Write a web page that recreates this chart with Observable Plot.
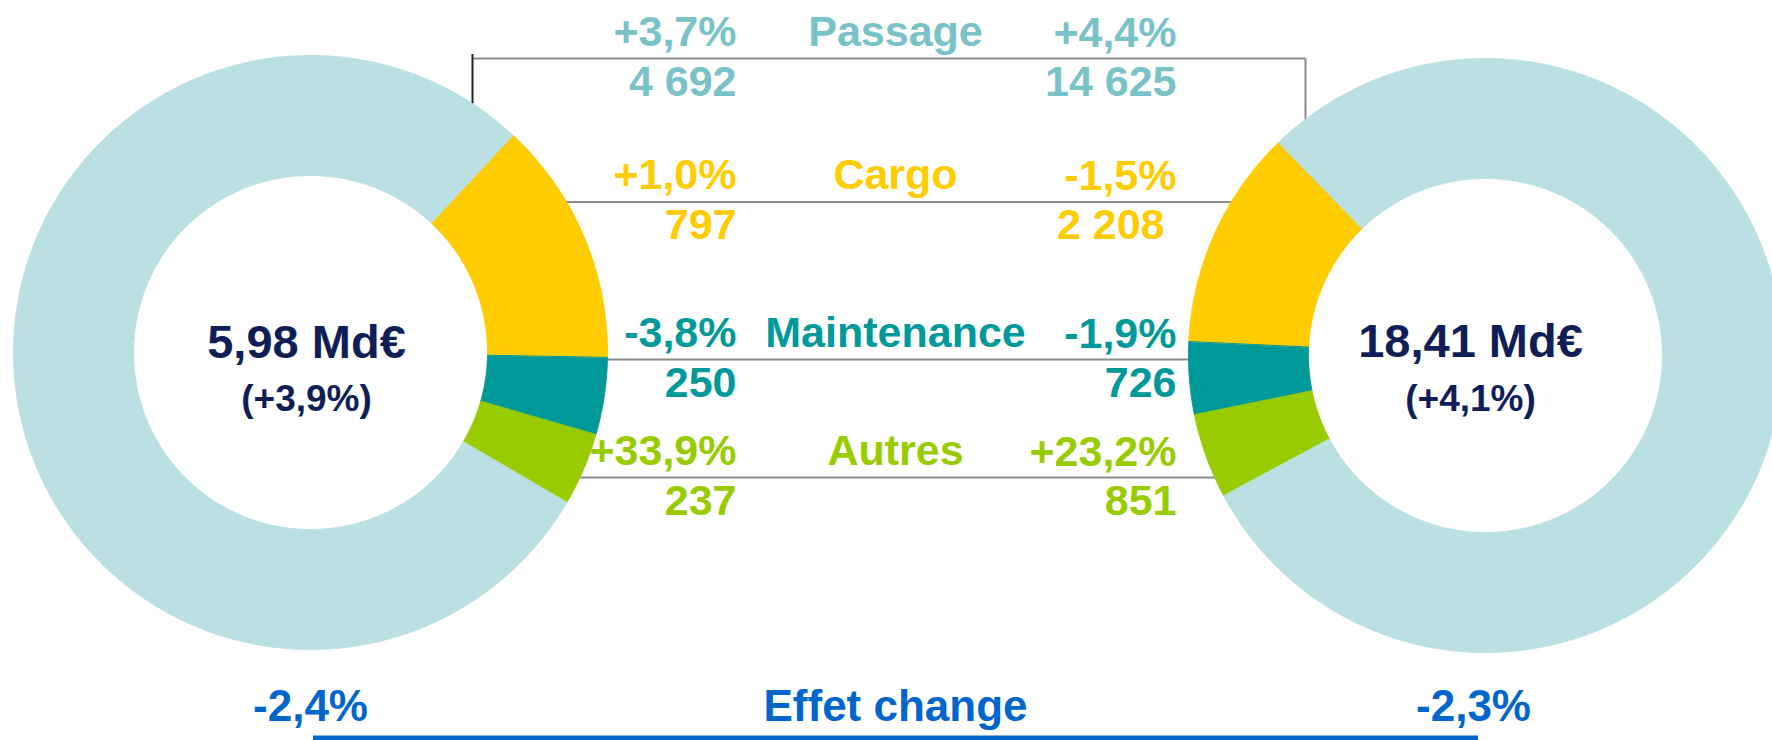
<!DOCTYPE html>
<html>
<head>
<meta charset="utf-8">
<script src="https://cdn.jsdelivr.net/npm/d3@7"></script>
<script src="https://cdn.jsdelivr.net/npm/@observablehq/plot@0.6"></script>
<style>
  html, body { margin: 0; padding: 0; background: #fff; overflow: hidden; }
  #chart svg { display: block; }
</style>
</head>
<body>
<div id="chart"></div>
<script>
// ---------- DATA ----------
const categories   = ["Passage", "Cargo", "Maintenance", "Autres"];
const leftValues   = [4692, 797, 250, 237];      // M€
const rightValues  = [14625, 2208, 726, 851];    // M€
const leftChanges  = ["+3,7%", "+1,0%", "-3,8%", "+33,9%"];
const rightChanges = ["+4,4%", "-1,5%", "-1,9%", "+23,2%"];
const totalChanges = ["(+3,9%)", "(+4,1%)"];
const fxChanges    = ["-2,4%", "-2,3%"];
const fxLabel      = "Effet change";

// ---------- STYLE ----------
const sliceColors = ["#bbe0e3", "#ffcc00", "#009999", "#99cc00"];
const textColors  = ["#79c2c8", "#ffcc00", "#009999", "#99cc00"];
const navy = "#0f1e56";
const fxBlue = "#0066cc";
const font = "Liberation Sans, Arial, Helvetica, sans-serif";

// ---------- LAYOUT ----------
const W = 1772, H = 740;
const rOuter = 297, rInner = 177;
const donuts = [
  {side: "L", cx: 310,  cy: 352, dir: 1,  start: 43,    values: leftValues,  textX: 306,  totalY: 357, subY: 410, fxX: 310},
  {side: "R", cx: 1485, cy: 355, dir: -1, start: -44.2, values: rightValues, textX: 1470, totalY: 356, subY: 410, fxX: 1473}
];
const rowLineY = [58, 201.5, 359, 477];
const rightValueDx = [0, -12, 0, 0];
const colLeftX = 736, colMidX = 895, colRightX = 1176;
const lineX1 = 500, lineX2 = 1290;
const bracketX = [472, 1305];
const fxY = 720, fxLineY = 738, fxLineX = [313, 1478];

const fr = d3.formatLocale({decimal: ",", thousands: " ", grouping: [3], currency: ["", ""]});
const fmtInt = fr.format(",d");
const fmtMd = fr.format(",.2f");

// donut slice polygons from values
const sliceOrder = [1, 2, 3, 0];
const slicePts = [];
for (const d of donuts) {
  const total = d3.sum(d.values);
  let a = d.start;
  for (const i of sliceOrder) {
    const span = d.values[i] / total * 360 * d.dir;
    const a0 = a, a1 = a + span;
    const n = Math.max(2, Math.ceil(Math.abs(span) / 0.25));
    const id = d.side + "-" + categories[i];
    for (let k = 0; k <= n; k++) {
      const t = (a0 + (a1 - a0) * k / n) * Math.PI / 180;
      slicePts.push({id, color: sliceColors[i], x: d.cx + rOuter * Math.sin(t), y: d.cy - rOuter * Math.cos(t)});
    }
    for (let k = n; k >= 0; k--) {
      const t = (a0 + (a1 - a0) * k / n) * Math.PI / 180;
      slicePts.push({id, color: sliceColors[i], x: d.cx + rInner * Math.sin(t), y: d.cy - rInner * Math.cos(t)});
    }
    a = a1;
  }
}

// text tables
const rows = categories.map((c, i) => ({
  cat: c, color: textColors[i], lineY: rowLineY[i], rdx: rightValueDx[i],
  lpct: leftChanges[i], rpct: rightChanges[i],
  lval: fmtInt(leftValues[i]), rval: fmtInt(rightValues[i])
}));
const totals = donuts.map((d, j) => ({
  x: d.textX, y: d.totalY, subY: d.subY,
  total: fmtMd(d3.sum(d.values) / 1000) + " Md€",
  sub: totalChanges[j]
}));
const fx = donuts.map((d, j) => ({x: d.fxX, text: fxChanges[j]}));

const txt = {fontFamily: font, fontWeight: "bold", lineAnchor: "bottom"};

const plot = Plot.plot({
  width: W, height: H,
  margin: 0,
  x: {domain: [0, W], range: [0, W], axis: null},
  y: {domain: [0, H], range: [0, H], axis: null},
  color: {type: "identity"},
  style: {background: "#fff", overflow: "hidden"},
  marks: [
    // connector lines (behind donuts)
    Plot.ruleY(rows.slice(1), {y: "lineY", x1: lineX1, x2: lineX2, stroke: "#8c8c8c", strokeWidth: 2}),
    Plot.ruleY(rows.slice(0, 1), {y: "lineY", x1: bracketX[0], x2: bracketX[1], stroke: "#8c8c8c", strokeWidth: 2}),
    Plot.ruleX([bracketX[0]], {x: d => d, y1: rowLineY[0] - 4, y2: 200, stroke: "#222", strokeWidth: 2}),
    Plot.ruleX([bracketX[1]], {x: d => d, y1: rowLineY[0], y2: 200, stroke: "#8c8c8c", strokeWidth: 2}),
    // donuts
    Plot.line(slicePts, {x: "x", y: "y", z: "id", fill: "color", stroke: "color", strokeWidth: 1, curve: "linear-closed"}),
    // row texts
    Plot.text(rows, {...txt, x: colLeftX, y: d => d.lineY - 13, text: "lpct", fill: "color", textAnchor: "end", fontSize: 43}),
    Plot.text(rows, {...txt, x: colLeftX, y: d => d.lineY + 37, text: "lval", fill: "color", textAnchor: "end", fontSize: 43}),
    Plot.text(rows, {...txt, x: colMidX, y: d => d.lineY - 13, text: "cat", fill: "color", textAnchor: "middle", fontSize: 43}),
    Plot.text(rows, {...txt, x: colRightX, y: d => d.lineY - 12, text: "rpct", fill: "color", textAnchor: "end", fontSize: 43}),
    Plot.text(rows, {...txt, x: d => colRightX + d.rdx, y: d => d.lineY + 37, text: "rval", fill: "color", textAnchor: "end", fontSize: 43}),
    // totals in donut centers
    Plot.text(totals, {...txt, x: "x", y: "y", text: "total", fill: navy, textAnchor: "middle", fontSize: 47}),
    Plot.text(totals, {...txt, x: "x", y: "subY", text: "sub", fill: navy, textAnchor: "middle", fontSize: 37}),
    // currency effect
    Plot.text(fx, {...txt, x: "x", y: fxY, text: "text", fill: fxBlue, textAnchor: "middle", fontSize: 44}),
    Plot.text([fxLabel], {...txt, x: colMidX, y: fxY, text: d => d, fill: fxBlue, textAnchor: "middle", fontSize: 44}),
    Plot.ruleY([fxLineY], {y: d => d, x1: fxLineX[0], x2: fxLineX[1], stroke: fxBlue, strokeWidth: 6})
  ]
});
document.getElementById("chart").appendChild(plot);
</script>
</body>
</html>
